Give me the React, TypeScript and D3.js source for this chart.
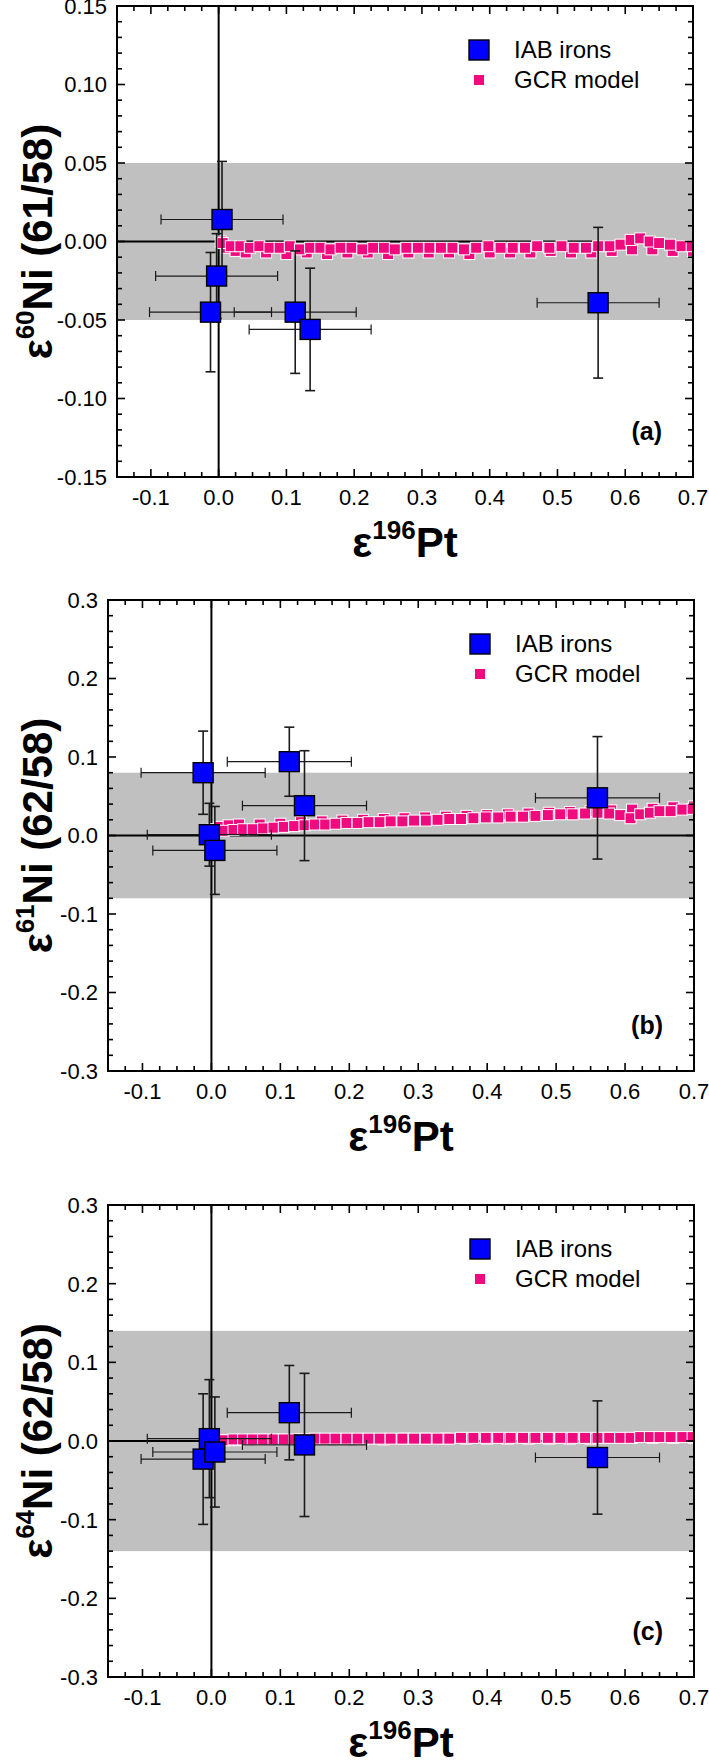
import * as d3 from "d3";

// IAB iron meteorites (same six samples in every panel)
const pt196 = [-0.012, -0.003, 0.005, 0.113, 0.135, 0.56];
const pt196Err = [0.09, 0.09, 0.09, 0.09, 0.09, 0.09];

const ni60 = [-0.045, -0.022, 0.014, -0.045, -0.056, -0.039];
const ni60Err = [0.038, 0.027, 0.037, 0.039, 0.039, 0.048];
const ni61 = [0.08, 0.001, -0.019, 0.094, 0.038, 0.048];
const ni61Err = [0.053, 0.04, 0.056, 0.044, 0.07, 0.078];
const ni64 = [-0.023, 0.003, -0.014, 0.036, -0.005, -0.021];
const ni64Err = [0.083, 0.075, 0.07, 0.06, 0.091, 0.072];

// GCR model curves (two overlapping rows of model points)
const gcrX = [
  0.006, 0.018, 0.032, 0.046, 0.06, 0.075, 0.09, 0.105, 0.12, 0.135, 0.15,
  0.165, 0.18, 0.196, 0.212, 0.228, 0.244, 0.26, 0.277, 0.294, 0.311, 0.328,
  0.345, 0.362, 0.38, 0.398, 0.416, 0.434, 0.452, 0.47, 0.488, 0.506, 0.524,
  0.542, 0.56, 0.577, 0.593, 0.608, 0.622, 0.636, 0.65, 0.666, 0.683, 0.698,
];
const gcrX2 = [
  0.003, 0.012, 0.025, 0.04, 0.07, 0.1, 0.13, 0.16, 0.19, 0.22, 0.25, 0.28,
  0.31, 0.34, 0.37, 0.4, 0.43, 0.46, 0.49, 0.52, 0.55, 0.58, 0.61, 0.64, 0.67,
  0.7,
];

const gcr60 = [
  -0.001, -0.003, -0.003, -0.004, -0.003, -0.004, -0.004, -0.003, -0.005,
  -0.004, -0.004, -0.005, -0.004, -0.004, -0.005, -0.004, -0.004, -0.005,
  -0.004, -0.004, -0.004, -0.004, -0.004, -0.005, -0.004, -0.003, -0.004,
  -0.004, -0.004, -0.003, -0.004, -0.003, -0.004, -0.004, -0.003, -0.003,
  -0.002, 0.001, 0.002, 0.0, -0.001, -0.002, -0.003, -0.003,
];
const gcr60b = [
  0.0, -0.004, -0.006, -0.007, -0.007, -0.008, -0.007, -0.008, -0.007, -0.007,
  -0.008, -0.007, -0.007, -0.007, -0.008, -0.007, -0.007, -0.007, -0.006,
  -0.007, -0.007, -0.006, -0.005, -0.005, -0.006, -0.006,
];
const gcr61 = [
  0.006, 0.006, 0.007, 0.008, 0.008, 0.009, 0.01, 0.011, 0.012, 0.013, 0.014,
  0.014, 0.015, 0.016, 0.016, 0.017, 0.017, 0.018, 0.018, 0.019, 0.019, 0.02,
  0.021, 0.021, 0.022, 0.023, 0.023, 0.024, 0.024, 0.025, 0.026, 0.027, 0.027,
  0.028, 0.029, 0.028, 0.026, 0.022, 0.027, 0.029, 0.031, 0.031, 0.033, 0.034,
];
const gcr61b = [
  0.008, 0.011, 0.013, 0.014, 0.014, 0.015, 0.017, 0.018, 0.019, 0.02, 0.021,
  0.022, 0.023, 0.024, 0.025, 0.026, 0.027, 0.028, 0.029, 0.03, 0.031, 0.032,
  0.033, 0.034, 0.036, 0.037,
];
const gcr64 = [
  0.001, 0.001, 0.002, 0.002, 0.002, 0.002, 0.002, 0.002, 0.002, 0.002, 0.003,
  0.003, 0.003, 0.003, 0.003, 0.003, 0.003, 0.003, 0.003, 0.003, 0.003, 0.003,
  0.003, 0.004, 0.004, 0.004, 0.004, 0.004, 0.004, 0.004, 0.004, 0.004, 0.004,
  0.004, 0.004, 0.004, 0.004, 0.004, 0.005, 0.005, 0.005, 0.005, 0.005, 0.005,
];
const gcr64b = [
  0.0, 0.001, 0.001, 0.001, 0.002, 0.002, 0.002, 0.002, 0.002, 0.002, 0.002,
  0.003, 0.003, 0.003, 0.003, 0.003, 0.003, 0.003, 0.003, 0.003, 0.003, 0.004,
  0.004, 0.004, 0.004, 0.004,
];

const xTicks = [-0.1, 0, 0.1, 0.2, 0.3, 0.4, 0.5, 0.6, 0.7];
const yTicksA = [-0.15, -0.1, -0.05, 0, 0.05, 0.1, 0.15];
const yTicksBC = [-0.3, -0.2, -0.1, 0, 0.1, 0.2, 0.3];

const FONT = "'Liberation Sans', Arial, Helvetica, sans-serif";
const PINK = "#ef0a7e";
const BLUE = "#0000ff";
const BAND = "#c0c0c0";

interface PanelCfg {
  id: string;
  left: number;
  right: number;
  top: number;
  bottom: number;
  yDomain: [number, number];
  yTicks: number[];
  yMinor: number;
  digits: number;
  band: number;
  ys: number[];
  yErr: number[];
  gcr: number[];
  gcrB: number[];
  iso: string;
  ratio: string;
  label: string;
}

const panels: PanelCfg[] = [
  {
    id: "a", left: 117, right: 693, top: 6, bottom: 477,
    yDomain: [-0.15, 0.15], yTicks: yTicksA, yMinor: 0.01, digits: 2, band: 0.05,
    ys: ni60, yErr: ni60Err, gcr: gcr60, gcrB: gcr60b,
    iso: "60", ratio: "Ni (61/58)", label: "(a)",
  },
  {
    id: "b", left: 108, right: 694, top: 600, bottom: 1071,
    yDomain: [-0.3, 0.3], yTicks: yTicksBC, yMinor: 0.02, digits: 1, band: 0.08,
    ys: ni61, yErr: ni61Err, gcr: gcr61, gcrB: gcr61b,
    iso: "61", ratio: "Ni (62/58)", label: "(b)",
  },
  {
    id: "c", left: 108, right: 694, top: 1205, bottom: 1677,
    yDomain: [-0.3, 0.3], yTicks: yTicksBC, yMinor: 0.02, digits: 1, band: 0.14,
    ys: ni64, yErr: ni64Err, gcr: gcr64, gcrB: gcr64b,
    iso: "64", ratio: "Ni (62/58)", label: "(c)",
  },
];

function fmt(v: number, digits: number) {
  const s = v.toFixed(digits);
  return s.startsWith("-") && Number(s) === 0 ? s.slice(1) : s;
}

function Panel({ cfg }: { cfg: PanelCfg }) {
  const x = d3.scaleLinear().domain([-0.15, 0.7]).range([cfg.left, cfg.right]);
  const y = d3.scaleLinear().domain(cfg.yDomain).range([cfg.bottom, cfg.top]);

  const xMinor = d3.range(-0.15, 0.7001, 0.025).map((v) => +v.toFixed(3));
  const yMinor = d3
    .range(cfg.yDomain[0], cfg.yDomain[1] + 1e-6, cfg.yMinor)
    .map((v) => +v.toFixed(3));

  const gs = 11; // GCR marker size
  const bs = 20; // IAB marker size
  const cap = 5;
  const clipId = `clip-${cfg.id}`;
  const cx = (cfg.left + cfg.right) / 2;
  const cy = (cfg.top + cfg.bottom) / 2;
  const lx = cfg.right - 214;

  return (
    <g>
      <defs>
        <clipPath id={clipId}>
          <rect x={cfg.left} y={cfg.top} width={cfg.right - cfg.left} height={cfg.bottom - cfg.top} />
        </clipPath>
      </defs>

      <rect
        x={cfg.left}
        y={y(cfg.band)}
        width={cfg.right - cfg.left}
        height={y(-cfg.band) - y(cfg.band)}
        fill={BAND}
      />

      {/* zero lines */}
      <line x1={cfg.left} x2={cfg.right} y1={y(0)} y2={y(0)} stroke="#000" strokeWidth={2} />
      <line x1={x(0)} x2={x(0)} y1={cfg.top} y2={cfg.bottom} stroke="#000" strokeWidth={2} />

      {/* GCR model */}
      <g clipPath={`url(#${clipId})`} fill={PINK} stroke="#fff" strokeWidth={1}>
        {gcrX2.map((xv, i) => (
          <rect key={`b${i}`} x={x(xv) - gs / 2} y={y(cfg.gcrB[i]) - gs / 2} width={gs} height={gs} />
        ))}
        {gcrX.map((xv, i) => (
          <rect key={`a${i}`} x={x(xv) - gs / 2} y={y(cfg.gcr[i]) - gs / 2} width={gs} height={gs} />
        ))}
      </g>

      {/* error bars */}
      <g stroke="#1a1a1a" fill="none">
        {pt196.map((xv, i) => {
          const px = x(xv);
          const py = y(cfg.ys[i]);
          const x0 = x(xv - pt196Err[i]);
          const x1 = x(xv + pt196Err[i]);
          const y0 = y(cfg.ys[i] + cfg.yErr[i]);
          const y1 = y(cfg.ys[i] - cfg.yErr[i]);
          return (
            <g key={i}>
              <g strokeWidth={1.2}>
                <line x1={x0} x2={x1} y1={py} y2={py} />
                <line x1={x0} x2={x0} y1={py - cap} y2={py + cap} />
                <line x1={x1} x2={x1} y1={py - cap} y2={py + cap} />
              </g>
              <g strokeWidth={1.6}>
                <line x1={px} x2={px} y1={y0} y2={y1} />
                <line x1={px - cap} x2={px + cap} y1={y0} y2={y0} />
                <line x1={px - cap} x2={px + cap} y1={y1} y2={y1} />
              </g>
            </g>
          );
        })}
      </g>

      {/* IAB irons */}
      <g fill={BLUE} stroke="#000" strokeWidth={1.4}>
        {pt196.map((xv, i) => (
          <rect key={i} x={x(xv) - bs / 2} y={y(cfg.ys[i]) - bs / 2} width={bs} height={bs} />
        ))}
      </g>

      {/* frame and ticks */}
      <rect
        x={cfg.left}
        y={cfg.top}
        width={cfg.right - cfg.left}
        height={cfg.bottom - cfg.top}
        fill="none"
        stroke="#000"
        strokeWidth={2}
      />
      <g stroke="#000" strokeWidth={1.6}>
        {xMinor.map((v) => {
          const major = xTicks.some((t) => Math.abs(t - v) < 1e-6);
          const len = major ? 8 : 5;
          return (
            <g key={`x${v}`}>
              <line x1={x(v)} x2={x(v)} y1={cfg.bottom} y2={cfg.bottom - len} />
              <line x1={x(v)} x2={x(v)} y1={cfg.top} y2={cfg.top + len} />
            </g>
          );
        })}
        {yMinor.map((v) => {
          const major = cfg.yTicks.some((t) => Math.abs(t - v) < 1e-6);
          const len = major ? 8 : 5;
          return (
            <g key={`y${v}`}>
              <line x1={cfg.left} x2={cfg.left + len} y1={y(v)} y2={y(v)} />
              <line x1={cfg.right} x2={cfg.right - len} y1={y(v)} y2={y(v)} />
            </g>
          );
        })}
      </g>

      <g fontFamily={FONT} fontSize={22} fill="#000">
        {xTicks.map((v) => (
          <text key={v} x={x(v)} y={cfg.bottom + 28} textAnchor="middle">
            {fmt(v, 1)}
          </text>
        ))}
        {cfg.yTicks.map((v) => (
          <text key={v} x={cfg.left - 10} y={y(v)} dy="0.36em" textAnchor="end">
            {fmt(v, cfg.digits)}
          </text>
        ))}
      </g>

      {/* axis titles */}
      <text x={cx} y={cfg.bottom + 80} textAnchor="middle" fontFamily={FONT} fontWeight="bold" fontSize={42}>
        ε<tspan fontSize={26} dy={-18}>196</tspan>
        <tspan dy={18}>Pt</tspan>
      </text>
      <text
        transform={`translate(52,${cy}) rotate(-90)`}
        textAnchor="middle"
        fontFamily={FONT}
        fontWeight="bold"
        fontSize={42}
      >
        ε<tspan fontSize={26} dy={-18}>{cfg.iso}</tspan>
        <tspan dy={18}>{cfg.ratio}</tspan>
      </text>

      {/* legend */}
      <rect x={lx - bs / 2} y={cfg.top + 44 - bs / 2} width={bs} height={bs} fill={BLUE} stroke="#000" strokeWidth={1.4} />
      <rect x={lx - gs / 2} y={cfg.top + 74 - gs / 2} width={gs} height={gs} fill={PINK} stroke="#fff" strokeWidth={1} />
      <g fontFamily={FONT} fontSize={24} fill="#000">
        <text x={lx + 35} y={cfg.top + 52}>IAB irons</text>
        <text x={lx + 35} y={cfg.top + 82}>GCR model</text>
      </g>

      <text
        x={cfg.right - 31}
        y={cfg.bottom - 37}
        textAnchor="end"
        fontFamily={FONT}
        fontWeight="bold"
        fontSize={25}
      >
        {cfg.label}
      </text>
    </g>
  );
}

export default function App() {
  return (
    <svg
      width={709}
      height={1762}
      viewBox="0 0 709 1762"
      style={{ position: "absolute", left: 0, top: 0, background: "#fff" }}
    >
      <rect width={709} height={1762} fill="#fff" />
      {panels.map((p) => (
        <Panel key={p.id} cfg={p} />
      ))}
    </svg>
  );
}
